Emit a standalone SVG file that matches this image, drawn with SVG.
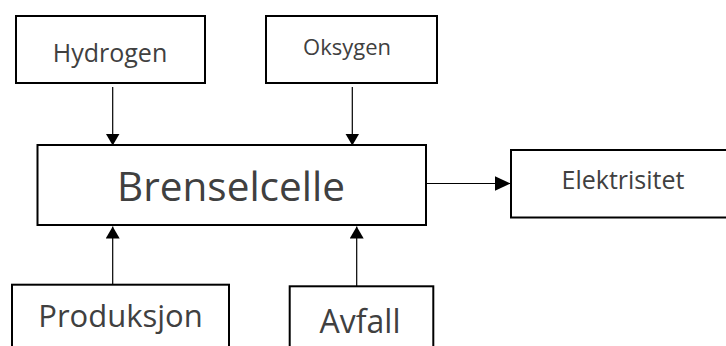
<svg xmlns="http://www.w3.org/2000/svg" width="726" height="346" viewBox="0 0 726 346">
  <style>
    .box { fill: #ffffff; stroke: #000000; stroke-width: 2; }
    .lbl { font-family: "Open Sans", "Liberation Sans", sans-serif; fill: #404040; text-anchor: middle; }
    .edge { stroke: #000000; stroke-width: 1.2; fill: none; }
  </style>
  <defs>
    <marker id="head" viewBox="0 0 12 14" refX="12" refY="7" markerWidth="12" markerHeight="14" markerUnits="userSpaceOnUse" orient="auto">
      <path d="M0,0 L12,7 L0,14 Z" fill="#000000"/>
    </marker>
    <marker id="headWide" viewBox="0 0 16 15" refX="16" refY="7.5" markerWidth="16" markerHeight="15" markerUnits="userSpaceOnUse" orient="auto">
      <path d="M0,0 L16,7.5 L0,15 Z" fill="#000000"/>
    </marker>
  </defs>

  <g id="hydrogen">
    <rect class="box" x="16" y="16" width="189" height="67"/>
    <text class="lbl" x="110" y="61.5" font-size="25">Hydrogen</text>
  </g>

  <g id="oksygen">
    <rect class="box" x="266" y="16" width="171" height="67"/>
    <text class="lbl" x="347" y="55" font-size="22">Oksygen</text>
  </g>

  <g id="brenselcelle">
    <rect class="box" x="37.5" y="145" width="388.5" height="80"/>
    <text class="lbl" x="231" y="201" font-size="40.5">Brenselcelle</text>
  </g>

  <g id="elektrisitet">
    <rect class="box" x="511" y="150" width="230" height="67.5"/>
    <text class="lbl" x="623" y="189.3" font-size="25">Elektrisitet</text>
  </g>

  <g id="produksjon">
    <rect class="box" x="12" y="284.7" width="217" height="80"/>
    <text class="lbl" x="120.5" y="327.3" font-size="31">Produksjon</text>
  </g>

  <g id="avfall">
    <rect class="box" x="289.7" y="286.3" width="143.6" height="80"/>
    <text class="lbl" x="360" y="332.7" font-size="32">Avfall</text>
  </g>

  <g id="connectors">
    <line class="edge" x1="112.7" y1="87" x2="112.7" y2="145.5" marker-end="url(#head)"/>
    <line class="edge" x1="352.3" y1="87" x2="352.3" y2="145.5" marker-end="url(#head)"/>
    <line class="edge" x1="112.7" y1="285" x2="112.7" y2="226.5" marker-end="url(#head)"/>
    <line class="edge" x1="356.7" y1="286" x2="356.7" y2="226.5" marker-end="url(#head)"/>
    <line class="edge" x1="427" y1="183.5" x2="510.5" y2="183.5" marker-end="url(#headWide)"/>
  </g>
</svg>
